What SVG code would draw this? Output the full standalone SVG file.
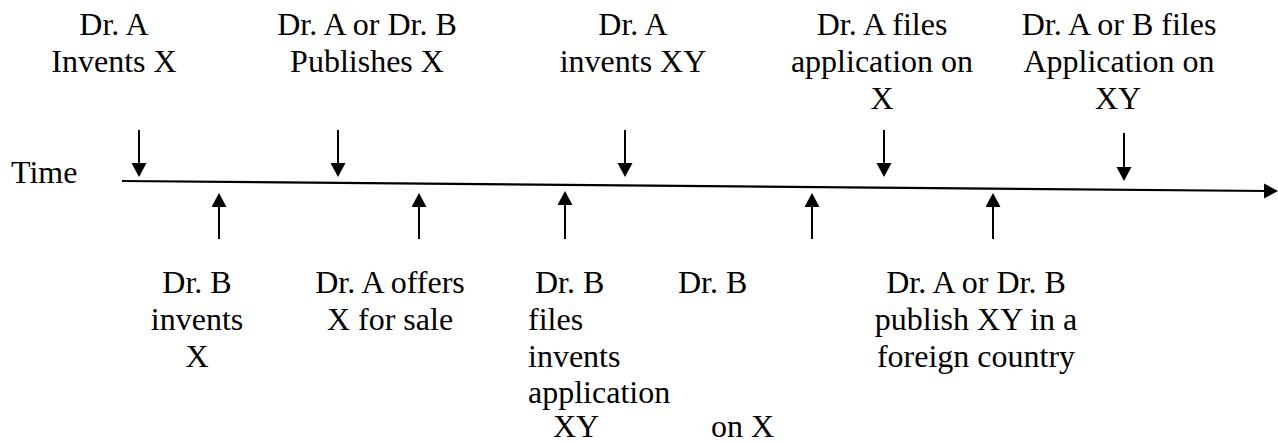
<svg xmlns="http://www.w3.org/2000/svg" width="1278" height="443" viewBox="0 0 1278 443" font-family="'Liberation Serif', 'Times New Roman', serif">
<style>
text{font-family:'Liberation Serif','Times New Roman',serif;font-size:32px;fill:#000}
.c{text-anchor:middle}
.ax{stroke:#000;stroke-width:2.2;fill:none}
.ar{stroke:#000;stroke-width:2;fill:none;marker-end:url(#ah)}
</style>
<defs>
<marker id="ah" markerUnits="userSpaceOnUse" markerWidth="16" markerHeight="16" refX="4" refY="7.5" orient="auto">
<path d="M0,0 L14,7.5 L0,15 Z" fill="#000"/>
</marker>
</defs>
<rect width="1278" height="443" fill="#fff"/>
<g id="connectors">
<line id="timeline" class="ax" x1="122" y1="181" x2="1268" y2="191" marker-end="url(#ah)"/>
<line class="ar" x1="139" y1="130" x2="139" y2="167"/>
<line class="ar" x1="338" y1="130" x2="338" y2="167"/>
<line class="ar" x1="625" y1="130" x2="625" y2="167"/>
<line class="ar" x1="884" y1="130" x2="884" y2="167"/>
<line class="ar" x1="1124" y1="133" x2="1124" y2="171"/>
<line class="ar" x1="219" y1="239" x2="219" y2="203"/>
<line class="ar" x1="419" y1="239" x2="419" y2="203"/>
<line class="ar" x1="565" y1="239" x2="565" y2="201"/>
<line class="ar" x1="812" y1="239" x2="812" y2="203"/>
<line class="ar" x1="993" y1="239" x2="993" y2="203"/>
</g>
<g id="time-label"><text x="11" y="183">Time</text></g>
<g id="a-invents-x"><text class="c" x="114" y="35">Dr. A</text><text class="c" x="114" y="72">Invents X</text></g>
<g id="publishes-x"><text class="c" x="367" y="35">Dr. A or Dr. B</text><text class="c" x="367" y="72">Publishes X</text></g>
<g id="a-invents-xy"><text class="c" x="633" y="35">Dr. A</text><text class="c" x="633" y="72">invents XY</text></g>
<g id="a-files-x"><text class="c" x="882" y="35">Dr. A files</text><text class="c" x="882" y="72">application on</text><text class="c" x="882" y="109">X</text></g>
<g id="files-xy"><text class="c" x="1119" y="35">Dr. A or B files</text><text class="c" x="1119" y="72">Application on</text><text class="c" x="1118" y="109">XY</text></g>
<g id="b-invents-x"><text class="c" x="197" y="293">Dr. B</text><text class="c" x="197" y="330">invents</text><text class="c" x="197" y="367">X</text></g>
<g id="offers-x"><text class="c" x="390" y="293">Dr. A offers</text><text class="c" x="390" y="330">X for sale</text></g>
<g id="b-middle"><text x="535" y="293">Dr. B</text><text x="528" y="330">files</text><text x="528" y="367">invents</text><text x="528" y="403">application</text><text x="553" y="437">XY</text><text x="678" y="293">Dr. B</text><text x="711" y="437">on X</text></g>
<g id="publish-xy"><text class="c" x="976" y="293">Dr. A or Dr. B</text><text class="c" x="976" y="330">publish XY in a</text><text class="c" x="976" y="367">foreign country</text></g>
</svg>
